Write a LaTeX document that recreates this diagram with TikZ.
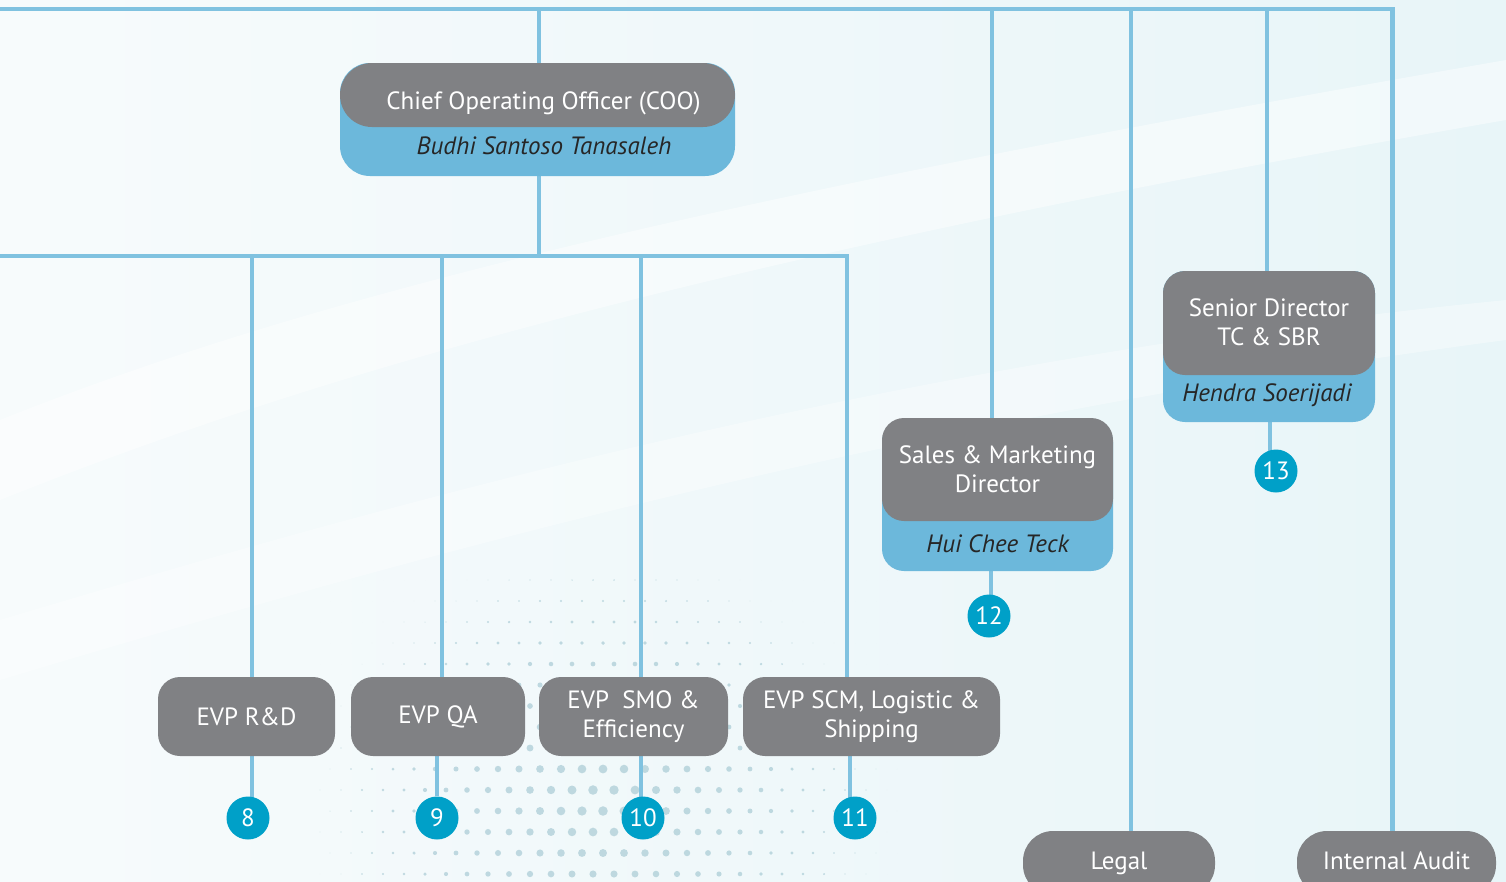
\documentclass[tikz,border=0pt]{standalone}
\usepackage{fontspec}
\setmainfont{PT Sans}
\usetikzlibrary{positioning,calc}
\definecolor{boxgray}{RGB}{128,129,132}
\definecolor{namebl}{RGB}{108,184,219}
\definecolor{linebl}{RGB}{128,194,224}
\definecolor{numbl}{RGB}{0,160,200}
\definecolor{bgleft}{RGB}{247,251,252}
\definecolor{bgright}{RGB}{232,245,248}
\definecolor{dotcol}{RGB}{140,185,198}
\pgfdeclarelayer{bg}
\pgfdeclarelayer{wires}
\pgfsetlayers{bg,wires,main}

\begin{document}
\begin{tikzpicture}[x=1pt,y=-1pt,
    txt/.style={font=\fontsize{25}{29}\selectfont},
    title/.style={txt,fill=boxgray,text=white,rounded corners=22pt,align=center,inner sep=0pt},
    backing/.style={fill=namebl,rounded corners=22pt,inner sep=0pt},
    person/.style={font=\fontsize{25}{29}\selectfont\itshape,text=black!85},
    num/.style={circle,fill=numbl,text=white,minimum size=43pt,inner sep=0pt,txt},
    wire/.style={draw=linebl,line width=4.5pt}]
  \useasboundingbox (0,0) rectangle (1506,881);

  % background
  \begin{pgfonlayer}{bg}
    \fill[left color=bgleft,right color=bgright] (0,0) rectangle (1506,881);
    \fill[white,opacity=0.45] (0,420) .. controls (300,300) and (700,200) .. (1506,60)
      -- (1506,120) .. controls (700,260) and (300,380) .. (0,500) -- cycle;
    \fill[white,opacity=0.35] (0,620) .. controls (400,500) and (900,360) .. (1506,300)
      -- (1506,340) .. controls (900,420) and (400,560) .. (0,680) -- cycle;
    \foreach \i in {0,...,27}{
      \foreach \j in {0,...,14}{
        \pgfmathsetmacro\px{320+\i*21+mod(\j,2)*10}
        \pgfmathsetmacro\py{580+\j*21}
        \pgfmathsetmacro\d{sqrt(((\px-600)/300)^2+((\py-800)/260)^2)}
        \pgfmathsetmacro\r{max(0,5*(1-\d))}
        \fill[dotcol,opacity=0.5] (\px,\py) circle (\r pt);
      }
    }
  \end{pgfonlayer}

  % people with name
  \node[backing,rounded corners=30pt,minimum width=395pt,minimum height=113pt] (coo-bg) at (537.5,119.5) {};
  \node[title,rounded corners=32pt,minimum width=395pt,minimum height=64pt,text height=32pt,text depth=3pt] (coo) at (537.5,95) {\hspace{12pt}Chief Operating Officer (COO)};
  \node[person] (coo-name) at (544,146) {Budhi Santoso Tanasaleh};

  \node[backing,minimum width=231pt,minimum height=151pt] (sales-bg) at (997.5,495.5) {};
  \node[title,minimum width=231pt,minimum height=103pt] (sales) at (997.5,469.5) {Sales \& Marketing\\Director};
  \node[person] (sales-name) at (997.5,544) {Hui Chee Teck};

  \node[backing,minimum width=212pt,minimum height=151pt] (senior-bg) at (1269,346.5) {};
  \node[title,minimum width=212pt,minimum height=104pt] (senior) at (1269,323) {\raisebox{2pt}{Senior Director}\\\raisebox{2pt}{TC \& SBR}};
  \node[person] (senior-name) at (1267,395) {Hendra Soerijadi};

  % units
  \node[title,minimum width=177pt,minimum height=79pt] (rd) at (246.5,716.5) {EVP R\&D};
  \node[title,minimum width=174pt,minimum height=79pt] (qa) at (438,716.5) {EVP QA};
  \node[title,minimum width=189pt,minimum height=79pt] (smo) at (633.5,716.5) {EVP~~SMO \&\\Efficiency};
  \node[title,minimum width=257pt,minimum height=79pt] (scm) at (871.5,716.5) {EVP SCM, Logistic \&\\Shipping};
  \node[title,rounded corners=30pt,minimum width=192pt,minimum height=64pt,text height=17pt,text depth=5pt] (legal) at (1119,863) {Legal};
  \node[title,rounded corners=30pt,minimum width=199pt,minimum height=64pt,text height=17pt,text depth=5pt] (audit) at (1396.5,863) {Internal Audit};

  % numbers
  \node[num] (n8) at (248,818) {8};
  \node[num] (n9) at (437,818) {9};
  \node[num] (n10) at (643,818) {10};
  \node[num] (n11) at (855,818) {11};
  \node[num] (n12) at (989,616) {12};
  \node[num] (n13) at (1276,471) {13};

  % lines
  \coordinate (busA) at (0,9);
  \coordinate (busB) at (0,256);
  \begin{pgfonlayer}{wires}
    \draw[wire] (busA) -| ([xshift=-4pt]audit.north);
    \draw[wire] (busB) -| ([xshift=-24.5pt]scm.north);
    \draw[wire] ([xshift=1.5pt]coo.north) -- ([xshift=1.5pt]coo.north |- busA);
    \draw[wire] ([xshift=1.5pt]coo-bg.south) -- ([xshift=1.5pt]coo-bg.south |- busB);
    \draw[wire] ([xshift=-5.5pt]sales.north) -- ([xshift=-5.5pt]sales.north |- busA);
    \draw[wire] ([xshift=12pt]legal.north) -- ([xshift=12pt]legal.north |- busA);
    \draw[wire] ([xshift=-2pt]senior.north) -- ([xshift=-2pt]senior.north |- busA);
    \draw[wire] ([xshift=5.5pt]rd.north) -- ([xshift=5.5pt]rd.north |- busB);
    \draw[wire] ([xshift=4pt]qa.north) -- ([xshift=4pt]qa.north |- busB);
    \draw[wire] ([xshift=7.5pt]smo.north) -- ([xshift=7.5pt]smo.north |- busB);
    \draw[wire] ([xshift=4pt]n8.center) -- ([xshift=4pt]n8.center |- rd.south);
    \draw[wire] (n9) -- (n9 |- qa.south);
    \draw[wire] ([xshift=-2pt]n10.center) -- ([xshift=-2pt]n10.center |- smo.south);
    \draw[wire] ([xshift=-5pt]n11.center) -- ([xshift=-5pt]n11.center |- scm.south);
    \draw[wire] ([xshift=2pt]n12.center) -- ([xshift=2pt]n12.center |- sales-bg.south);
    \draw[wire] ([xshift=-6pt]n13.center) -- ([xshift=-6pt]n13.center |- senior-bg.south);
  \end{pgfonlayer}
\end{tikzpicture}
\end{document}
